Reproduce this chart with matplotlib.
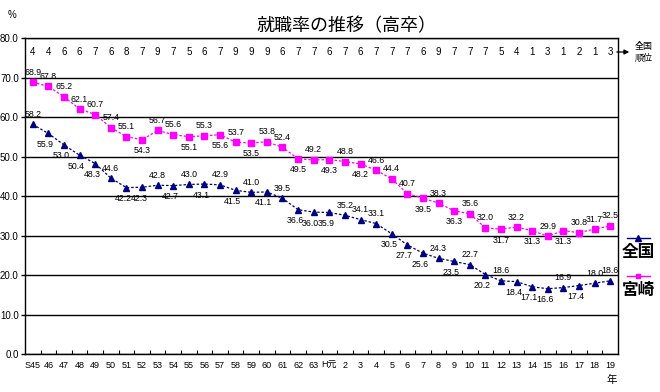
import numpy as np
import matplotlib
matplotlib.use("Agg")
import matplotlib.pyplot as plt
from matplotlib.lines import Line2D

# data
years=['S45','46','47','48','49','50','51','52','53','54','55','56','57','58','59',
       '60','61','62','63','H元','2','3','4','5','6','7','8','9','10','11','12',
       '13','14','15','16','17','18','19']
zenkoku=[58.2,55.9,53.0,50.4,48.3,44.6,42.2,42.3,42.8,42.7,43.0,43.1,42.9,41.5,41.0,
         41.1,39.5,36.6,36.0,35.9,35.2,34.1,33.1,30.5,27.7,25.6,24.3,23.5,22.7,20.2,
         18.6,18.4,17.1,16.6,16.9,17.4,18.0,18.6]
miyazaki=[68.9,67.8,65.2,62.1,60.7,57.4,55.1,54.3,56.7,55.6,55.1,55.3,55.6,53.7,53.5,
          53.8,52.4,49.5,49.2,49.3,48.8,48.2,46.6,44.4,40.7,39.5,38.3,36.3,35.6,32.0,
          31.7,32.2,31.3,29.9,31.3,30.8,31.7,32.5]
rank=[4,4,6,6,7,6,8,7,9,7,5,6,7,9,9,9,6,7,7,6,7,6,7,7,7,6,9,7,7,7,5,4,1,3,1,2,1,3]

# label placement (1 = above, -1 = below)
zpos=[1,-1,-1,-1,-1,1,-1,-1,1,-1,1,-1,1,-1,1,-1,1,-1,-1,-1,1,1,1,-1,-1,-1,1,-1,1,-1,
      1,-1,-1,-1,1,-1,1,1]
mpos=[1,1,1,1,1,1,1,-1,1,1,-1,1,-1,1,-1,1,1,-1,1,-1,1,-1,1,1,1,-1,1,-1,1,1,
      -1,1,-1,1,-1,1,1,1]

navy='#000080'
mag='#FF00FF'
lab_font='Liberation Sans'
jp_font='Noto Sans CJK JP'

fig=plt.figure(figsize=(6.6,3.92),dpi=100)
W,H=660.0,392.0
ax=fig.add_axes([25/W,(H-354.3)/H,(618-25)/W,(354.3-38.3)/H])

x=np.arange(len(years))
ax.plot(x,zenkoku,color=navy,lw=0.9,ls=(0,(2,1.5)),marker='^',ms=4.5,
        markeredgecolor=navy,markerfacecolor=navy,zorder=3)
ax.plot(x,miyazaki,color=mag,lw=0.9,ls=(0,(2,1.5)),marker='s',ms=4,
        markeredgecolor=mag,markerfacecolor=mag,zorder=3)

for i in range(len(x)):
    if zpos[i]>0:
        dx,dy=0,10
    else:
        dx,dy=-3,-11
    ax.annotate('%.1f'%zenkoku[i],(x[i],zenkoku[i]),xytext=(dx,dy),
                textcoords='offset pixels',ha='center',va='center',
                fontsize=6.3,family=lab_font,zorder=4)
    dy=10 if mpos[i]>0 else -11
    ax.annotate('%.1f'%miyazaki[i],(x[i],miyazaki[i]),xytext=(0,dy),
                textcoords='offset pixels',ha='center',va='center',
                fontsize=6.3,family=lab_font,zorder=4)

# rank row
for i in range(len(x)):
    ax.text(x[i],76.5,str(rank[i]),ha='center',va='center',fontsize=7,
            family=lab_font)

ax.set_xlim(-0.5,len(years)-0.5)
ax.set_ylim(0,80)
ax.set_yticks(np.arange(0,81,10))
ax.set_yticklabels(['%.1f'%v for v in np.arange(0,81,10)],family=lab_font,fontsize=7)
ax.yaxis.grid(True,color='black',lw=1)
ax.set_axisbelow(True)
ax.tick_params(axis='y',length=3,width=1,pad=1.5)

ax.set_xticks(x)
ax.set_xticklabels(years,family=[lab_font,jp_font],fontsize=6.5)
ax.set_xticks(np.arange(0.5,len(years)-0.5,1),minor=True)
ax.tick_params(axis='x',which='major',length=0,pad=5)
ax.tick_params(axis='x',which='minor',direction='in',length=3,width=0.8)

for s in ax.spines.values():
    s.set_color('black')
    s.set_linewidth(1)

# texts
fig.text(346/W,1-26/H,'就職率の推移（高卒）',ha='center',va='center',fontsize=13,family=jp_font)
fig.text(12/W,1-15/H,'%',ha='center',va='center',fontsize=7,family=lab_font)
fig.text(612/W,1-380/H,'年',ha='center',va='center',fontsize=7.5,family=jp_font)

# rank arrow + label
ax.annotate('',xy=(632/W,1-52/H),xytext=(614/W,1-52/H),xycoords='figure fraction',
            arrowprops=dict(arrowstyle='-|>',color='black',lw=0.9,mutation_scale=7))
fig.text(644/W,1-47/H,'全国',ha='center',va='center',fontsize=6.5,family=jp_font)
fig.text(644/W,1-58/H,'順位',ha='center',va='center',fontsize=6.5,family=jp_font)

# legend on the right
fig.add_artist(Line2D([627/W,650/W],[1-238/H,1-238/H],color=navy,lw=1,
                      transform=fig.transFigure))
fig.add_artist(Line2D([638/W],[1-238/H],color=navy,marker='^',ms=4,
                      transform=fig.transFigure))
fig.text(638/W,1-252/H,'全国',ha='center',va='center',fontsize=12,
         family=jp_font,weight='bold')
fig.add_artist(Line2D([627/W,650/W],[1-276/H,1-276/H],color=mag,lw=1,
                      transform=fig.transFigure))
fig.add_artist(Line2D([638/W],[1-276/H],color=mag,marker='s',ms=3.5,
                      transform=fig.transFigure))
fig.text(638/W,1-290/H,'宮崎',ha='center',va='center',fontsize=12,
         family=jp_font,weight='bold')

fig.savefig('out.png',dpi=100)
